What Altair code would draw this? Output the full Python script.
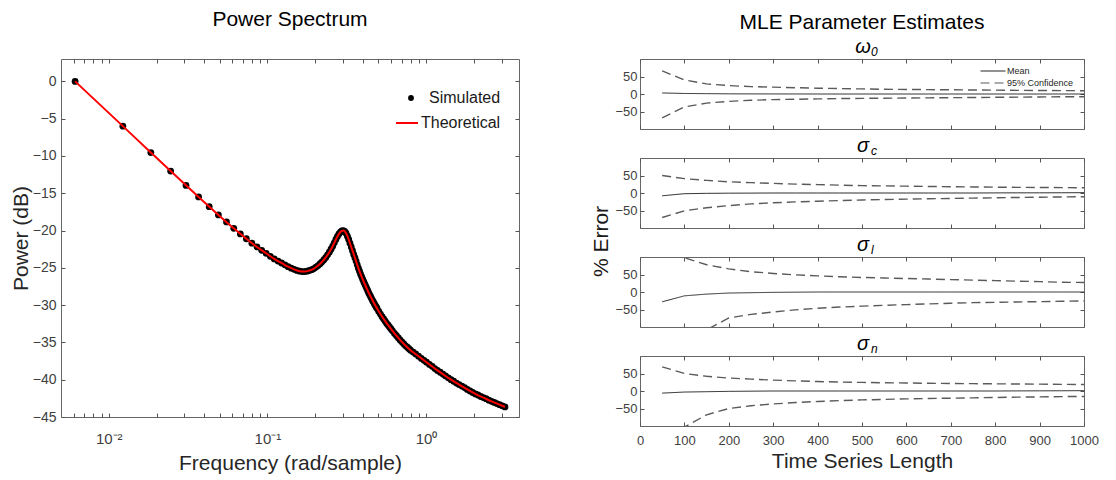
import altair as alt
import pandas as pd

FONT = "Liberation Sans"

# ---------------- Power spectrum (left panel) ----------------
sim_freq = [
    0.006136, 0.01227, 0.01841, 0.02454, 0.03068, 0.03682, 0.04295, 0.04909, 0.05522, 0.06136,
    0.06750, 0.07363, 0.07977, 0.08590, 0.09204, 0.09817, 0.1043, 0.1104, 0.1166, 0.1227,
    0.1289, 0.1350, 0.1411, 0.1473, 0.1534, 0.1595, 0.1657, 0.1718, 0.1779, 0.1841,
    0.1902, 0.1963, 0.2025, 0.2086, 0.2148, 0.2209, 0.2270, 0.2332, 0.2393, 0.2454,
    0.2516, 0.2577, 0.2638, 0.2700, 0.2761, 0.2823, 0.2884, 0.2945, 0.3007, 0.3068,
    0.3129, 0.3191, 0.3252, 0.3313, 0.3375, 0.3436, 0.3497, 0.3559, 0.3620, 0.3682,
    0.3743, 0.3804, 0.3866, 0.3927, 0.3988, 0.4050, 0.4111, 0.4172, 0.4234, 0.4295,
    0.4356, 0.4418, 0.4479, 0.4541, 0.4602, 0.4663, 0.4725, 0.4786, 0.4847, 0.4909,
    0.5031, 0.5154, 0.5277, 0.5400, 0.5522, 0.5645, 0.5768, 0.5890, 0.6013, 0.6136,
    0.6320, 0.6504, 0.6688, 0.6872, 0.7056, 0.7240, 0.7424, 0.7609, 0.7793, 0.7977,
    0.8283, 0.8590, 0.8958, 0.9327, 0.9695, 1.0063, 1.0492, 1.0922, 1.1351, 1.1781,
    1.2272, 1.2763, 1.3254, 1.3806, 1.4358, 1.4910, 1.5524, 1.6137, 1.6812, 1.7487,
    1.8162, 1.8899, 1.9635, 2.0433, 2.1230, 2.2089, 2.2948, 2.3869, 2.4850, 2.5832,
    2.6875, 2.7918, 2.9023, 3.0189, 3.1416,
]
sim_power = [
    0.0, -6.0, -9.54, -12.02, -13.95, -15.5, -16.8, -17.9, -18.85, -19.7,
    -20.45, -21.1, -21.7, -22.2, -22.65, -23.05, -23.45, -23.8, -24.1, -24.35,
    -24.6, -24.85, -25.05, -25.2, -25.35, -25.45, -25.5, -25.5, -25.45, -25.35,
    -25.25, -25.1, -24.9, -24.7, -24.45, -24.2, -23.9, -23.6, -23.25, -22.9,
    -22.5, -22.1, -21.65, -21.2, -20.8, -20.45, -20.2, -20.05, -20.0, -20.1,
    -20.35, -20.75, -21.2, -21.7, -22.2, -22.7, -23.2, -23.65, -24.1, -24.6,
    -25.05, -25.45, -25.85, -26.2, -26.55, -26.9, -27.2, -27.5, -27.8, -28.1,
    -28.4, -28.65, -28.9, -29.15, -29.4, -29.6, -29.85, -30.05, -30.25, -30.45,
    -30.85, -31.2, -31.55, -31.85, -32.15, -32.45, -32.7, -32.95, -33.2, -33.45,
    -33.8, -34.1, -34.4, -34.7, -34.95, -35.2, -35.45, -35.65, -35.85, -36.05,
    -36.3, -36.55, -36.85, -37.15, -37.4, -37.65, -37.95, -38.2, -38.5, -38.75,
    -39.0, -39.25, -39.5, -39.75, -40.0, -40.2, -40.45, -40.65, -40.85, -41.05,
    -41.3, -41.5, -41.7, -41.9, -42.05, -42.25, -42.4, -42.55, -42.75, -42.9,
    -43.05, -43.2, -43.35, -43.5, -43.65,
]
theo_freq = [
    0.006136, 0.01227, 0.01841, 0.02454, 0.03682, 0.04909, 0.06136, 0.07363, 0.08590, 0.09817,
    0.1104, 0.1227, 0.1350, 0.1473, 0.1595, 0.1718, 0.1841, 0.1963, 0.2086, 0.2209,
    0.2332, 0.2454, 0.2577, 0.2700, 0.2761, 0.2823, 0.2884, 0.2945, 0.3007, 0.3068,
    0.3129, 0.3191, 0.3252, 0.3313, 0.3436, 0.3559, 0.3682, 0.3804, 0.3927, 0.4111,
    0.4295, 0.4541, 0.4786, 0.5154, 0.5522, 0.5890, 0.6320, 0.6872, 0.7424, 0.7977,
    0.8958, 1.0063, 1.1351, 1.2763, 1.4358, 1.6137, 1.8162, 2.0433, 2.2948, 2.5832,
    2.9023, 3.1416,
]
theo_power = [
    0.0, -6.0, -9.54, -12.02, -15.5, -17.9, -19.7, -21.1, -22.2, -23.05,
    -23.8, -24.35, -24.85, -25.2, -25.45, -25.5, -25.35, -25.1, -24.7, -24.2,
    -23.6, -22.9, -22.1, -21.2, -20.8, -20.45, -20.2, -20.05, -20.0, -20.1,
    -20.35, -20.75, -21.2, -21.7, -22.7, -23.65, -24.6, -25.45, -26.2, -27.2,
    -28.1, -29.15, -30.05, -31.2, -32.15, -32.95, -33.8, -34.7, -35.45, -36.05,
    -36.85, -37.65, -38.5, -39.25, -40.0, -40.65, -41.3, -41.9, -42.4, -42.9,
    -43.35, -43.65,
]
freq_tick_values = [0.006, 0.007, 0.008, 0.009, 0.01, 0.02, 0.03, 0.04, 0.05, 0.06, 0.07, 0.08, 0.09,
                    0.1, 0.2, 0.3, 0.4, 0.5, 0.6, 0.7, 0.8, 0.9, 1, 2, 3]
power_tick_values = [-45, -40, -35, -30, -25, -20, -15, -10, -5, 0]
legend_names = ["Simulated", "Theoretical"]

# ---------------- MLE estimates (right panels) ----------------
series_length = [50, 100, 150, 200, 250, 300, 350, 400, 450, 500,
                 550, 600, 650, 700, 750, 800, 850, 900, 950, 1000]
length_tick_values = [0, 100, 200, 300, 400, 500, 600, 700, 800, 900, 1000]
error_tick_values = [-50, 0, 50]

w0_mean = [3, 1.5, 1, 0.5, 0.3, 0.2, 0.1, 0, 0, 0, 0, 0, 0, 0, 0, 0, 0, 0, 0, 0]
w0_upper = [66, 40, 29, 24, 21, 19.5, 18, 16.5, 15.5, 14.5, 13.5, 13, 12.5, 12, 11.5, 11, 10.5, 10, 9.7, 9.4]
w0_lower = [-68, -37, -26, -21, -18, -16, -15, -14, -13, -12.5, -12, -11.5, -11, -10.5, -10, -9.5, -9, -8.5, -8, -7.7]

sc_mean = [-8, -2, -1, -0.5, -0.3, 0, 0, 0, 0, 0, 0, 0, 0, 0, 0, 0.3, 0.5, 0.5, 0.7, 1]
sc_upper = [50, 41, 36, 32, 29.5, 27.5, 25.5, 24, 22.5, 21, 20.3, 19.5, 18.7, 18, 17.3, 16.7, 16.2, 15.8, 15.4, 15]
sc_lower = [-70, -51, -42, -36, -31, -28, -25.5, -23.5, -21.5, -20, -18.7, -17.5, -16.5, -15.5, -14.5, -13.7, -12.8, -12, -11.3, -10.5]

sl_mean = [-28, -11, -6, -3, -2, -1, -0.5, 0, 0, 0, 0, 0, 0, 0, 0, 0, 0, 0, 0, 0]
sl_upper = [140, 98, 78, 66, 58, 53, 49, 46, 43.5, 41.5, 40, 38.5, 37, 35.5, 34, 32.5, 31, 29.5, 28, 27]
sl_lower = [-190, -135, -108, -74, -64, -57, -51, -46.5, -43, -40.5, -38, -36, -34, -32, -30.5, -29.5, -28.5, -27.5, -26.5, -25.5]

sn_mean = [-6, -3, -2, -1, -0.5, 0, 0, 0, 0, 0, 0, 0, 0, 0, 0, 0, 0.3, 0.5, 0.7, 1]
sn_upper = [69, 50, 42, 37, 34, 31, 29, 27, 25.5, 24.5, 23.5, 23, 22, 21.5, 21, 20.5, 20, 19.5, 19, 18.5]
sn_lower = [-170, -103, -68, -50, -42, -37, -33, -30, -27.5, -25.5, -24, -22.5, -21.5, -20.5, -19.5, -18.5, -17.5, -16.8, -16, -15.5]

panel_symbols = ["ω", "σ", "σ", "σ"]
panel_subscripts = ["0", "c", "l", "n"]
line_kinds = ["Mean", "95% Confidence"]

# ---------------- styles ----------------
TICK = dict(tickSize=4, offset=-4, tickColor="#555555", tickWidth=1, domain=False, grid=False)

# ---------------- left chart ----------------
sim_df = pd.DataFrame({"freq": sim_freq, "power": sim_power, "series": [legend_names[0]] * len(sim_freq)})
theo_df = pd.DataFrame({"freq": theo_freq, "power": theo_power, "series": [legend_names[1]] * len(theo_freq)})

x_scale = alt.Scale(type="log", domain=[0.005, 3.85], nice=False)
y_scale = alt.Scale(domain=[-45, 3], nice=False, zero=False)
label_expr = "datum.value == 0.01 ? '10⁻²' : datum.value == 0.1 ? '10⁻¹' : datum.value == 1 ? '10⁰' : ''"

sim_layer = alt.Chart(sim_df).mark_point(filled=True, size=46, opacity=1, strokeWidth=0).encode(
    x=alt.X("freq:Q", scale=x_scale,
            axis=alt.Axis(orient="bottom", values=freq_tick_values, labelExpr=label_expr,
                          labelOverlap=False, labelFlush=False, labelPadding=14, labelFontSize=15,
                          title="Frequency (rad/sample)", titlePadding=6, titleFontSize=21, **TICK)),
    y=alt.Y("power:Q", scale=y_scale,
            axis=alt.Axis(orient="left", values=power_tick_values, labelPadding=5, labelFontSize=14,
                          title="Power (dB)", titlePadding=1, titleFontSize=21, **TICK)),
    color=alt.Color("series:N", scale=alt.Scale(domain=[legend_names[0]], range=["#000000"]),
                    legend=alt.Legend(orient="none", legendX=342, legendY=31, title=None, padding=0,
                                      labelFontSize=16, labelColor="#1a1a1a", labelFont=FONT,
                                      symbolType="circle", symbolSize=34, symbolStrokeWidth=0,
                                      labelOffset=10)),
)
theo_layer = alt.Chart(theo_df).mark_line(strokeWidth=2, interpolate="monotone").encode(
    x=alt.X("freq:Q", scale=x_scale,
            axis=alt.Axis(orient="top", values=freq_tick_values, labels=False, title=None, **TICK)),
    y=alt.Y("power:Q", scale=y_scale,
            axis=alt.Axis(orient="right", values=power_tick_values, labels=False, title=None, **TICK)),
    color=alt.Color("series:N", scale=alt.Scale(domain=[legend_names[1]], range=["#ff0000"]),
                    legend=alt.Legend(orient="none", legendX=334, legendY=52, title=None, padding=0,
                                      labelFontSize=16, labelColor="#1a1a1a", labelFont=FONT,
                                      symbolType="stroke", symbolSize=484, symbolStrokeWidth=2,
                                      labelOffset=2)),
)
left = alt.layer(sim_layer, theo_layer).resolve_scale(color="independent").resolve_axis(
    x="independent", y="independent"
).properties(
    width=458, height=358,
    title=alt.TitleParams("Power Spectrum", fontSize=21, font=FONT, fontWeight="normal",
                          anchor="middle", offset=29, color="#000000"),
)


# ---------------- right panels ----------------
def text_layer(text, size, x, y, style="italic", align="center"):
    return alt.Chart(pd.DataFrame({"label": [text]})).mark_text(
        font=FONT, fontSize=size, fontStyle=style, align=align, baseline="top", color="#000000"
    ).encode(text="label:N", x=alt.value(x), y=alt.value(y))


def mle_panel(idx, mean, upper, lower):
    n = len(series_length)
    df = pd.DataFrame({
        "N": series_length * 3,
        "value": mean + upper + lower,
        "band": ["Mean"] * n + ["Upper"] * n + ["Lower"] * n,
        "kind": [line_kinds[0]] * n + [line_kinds[1]] * (2 * n),
    })
    first = idx == 0
    last = idx == 3
    if first:
        leg = alt.Legend(orient="none", legendX=346, legendY=5, title=None, padding=0,
                         labelFontSize=9, labelColor="#262626", labelFont=FONT,
                         symbolType="M-2,0H2", symbolSize=156, symbolStrokeWidth=1.2,
                         labelOffset=7, rowPadding=0)
    else:
        leg = None
    dash = alt.StrokeDash("kind:N", scale=alt.Scale(domain=line_kinds, range=[[1, 0], [9, 5]]), legend=leg)
    col = alt.Color("kind:N", scale=alt.Scale(domain=line_kinds, range=["#262626", "#5a5a5a"]), legend=leg)
    xs = alt.Scale(domain=[0, 1000], nice=False)
    ys = alt.Scale(domain=[-100, 100], nice=False)
    if last:
        bottom_axis = alt.Axis(orient="bottom", values=length_tick_values, format="d", labelFontSize=13,
                               labelPadding=8, labelFlush=False, title="Time Series Length",
                               titleFontSize=21, titlePadding=3, **TICK)
    else:
        bottom_axis = alt.Axis(orient="bottom", values=length_tick_values, labels=False, title=None, **TICK)
    mean_layer = alt.Chart(df).transform_filter(alt.datum.band == "Mean").mark_line(
        clip=True, strokeWidth=1
    ).encode(
        x=alt.X("N:Q", scale=xs, axis=bottom_axis),
        y=alt.Y("value:Q", scale=ys, axis=alt.Axis(orient="left", values=error_tick_values, labelFontSize=13,
                                                   labelPadding=3, title=None, **TICK)),
        color=col, strokeDash=dash,
    )
    ci_layer = alt.Chart(df).transform_filter(alt.datum.band != "Mean").mark_line(
        clip=True, strokeWidth=1.4
    ).encode(
        x=alt.X("N:Q", scale=xs, axis=alt.Axis(orient="top", values=length_tick_values, labels=False,
                                               title=None, **TICK)),
        y=alt.Y("value:Q", scale=ys, axis=alt.Axis(orient="right", values=error_tick_values, labels=False,
                                                   title=None, **TICK)),
        detail="band:N", color=col, strokeDash=dash,
    )
    layers = [ci_layer, mean_layer,
              text_layer(panel_symbols[idx], 20, 223, -22),
              text_layer(panel_subscripts[idx], 12, 231, -12, align="left")]
    if first:
        layers.append(text_layer("MLE Parameter Estimates", 21, 222, -47, style="normal"))
    return alt.layer(*layers).resolve_axis(x="independent", y="independent").properties(width=444, height=70)


panels = [
    mle_panel(0, w0_mean, w0_upper, w0_lower),
    mle_panel(1, sc_mean, sc_upper, sc_lower),
    mle_panel(2, sl_mean, sl_upper, sl_lower),
    mle_panel(3, sn_mean, sn_upper, sn_lower),
]
right = alt.vconcat(*panels, spacing=5).resolve_scale(
    color="independent", strokeDash="independent"
).properties(
    title=alt.TitleParams("% Error", orient="left", anchor="middle", fontSize=21, font=FONT,
                          fontWeight="normal", color="#1a1a1a", offset=2)
)

chart = alt.ConcatChart(concat=[left, right], columns=2, spacing=71, align="none").resolve_scale(
    color="independent", strokeDash="independent"
).properties(
    padding={"left": 1, "top": 0, "right": 5, "bottom": 5}
).configure_view(
    stroke="#666666", strokeWidth=1
).configure_axis(
    labelFont=FONT, titleFont=FONT, labelColor="#404040", titleColor="#262626", titleFontWeight="normal"
).configure_legend(
    labelFont=FONT
)

chart.save("out.html", embed_options={"renderer": "svg", "actions": False})
